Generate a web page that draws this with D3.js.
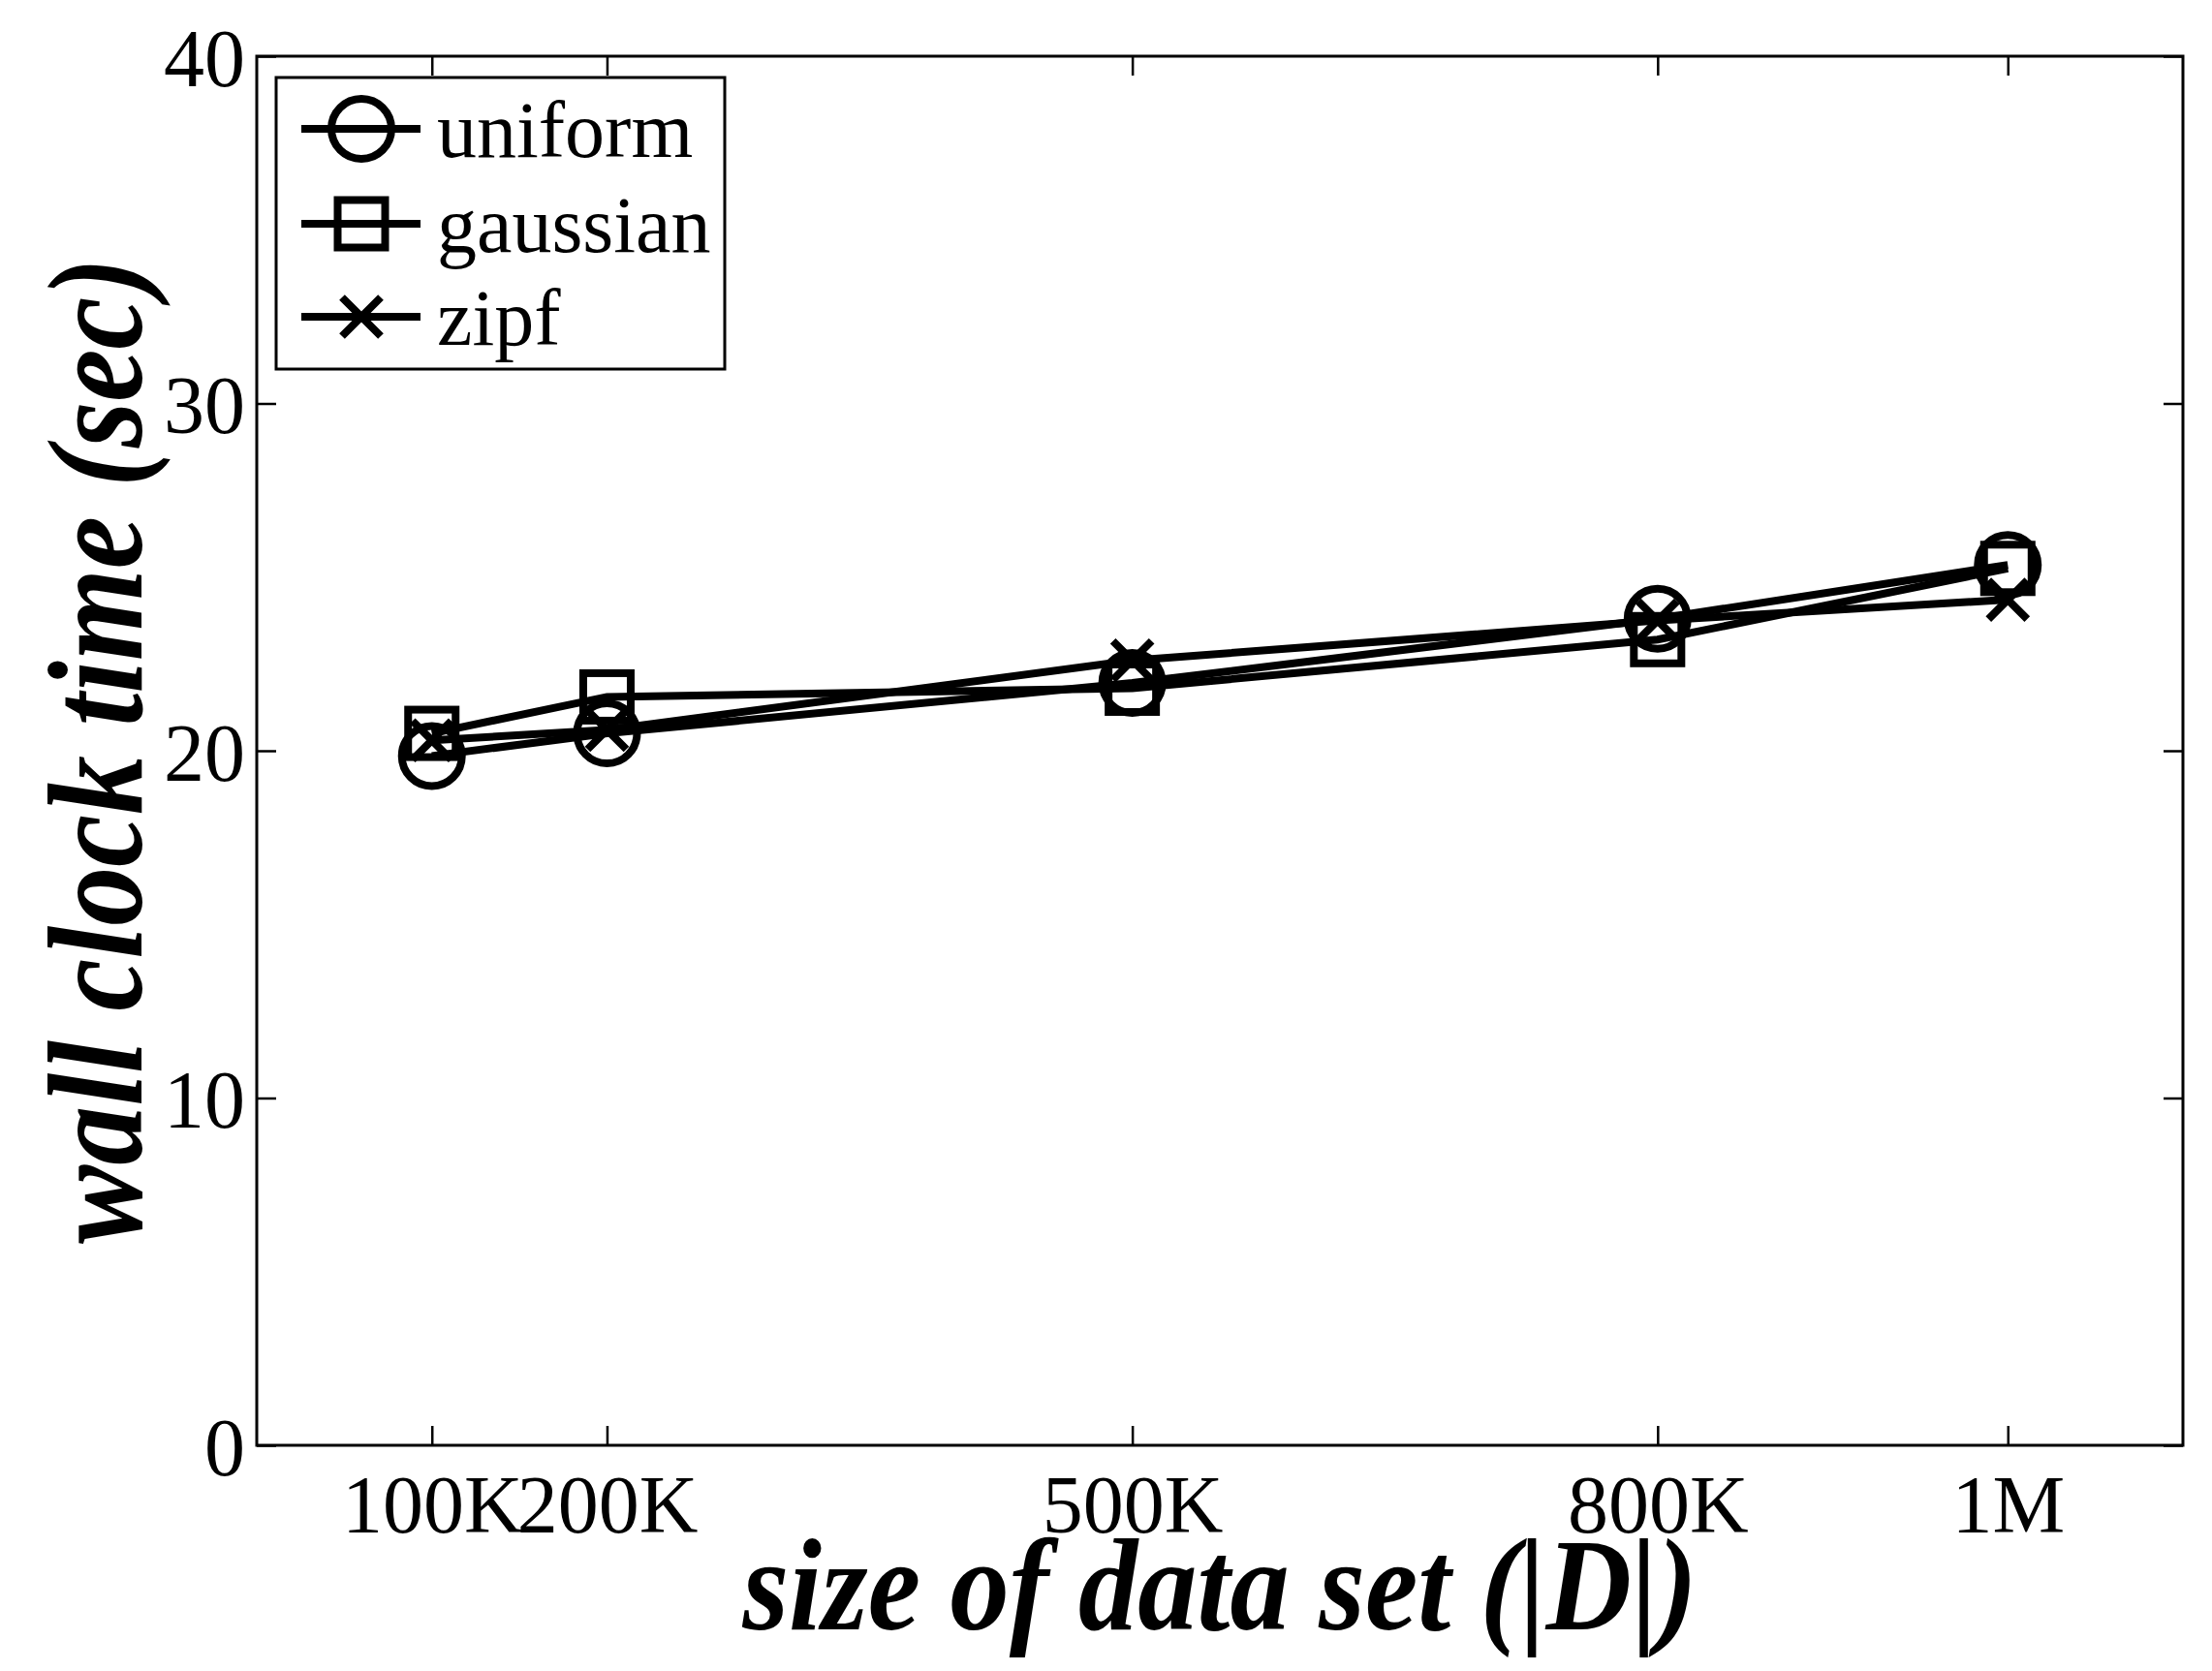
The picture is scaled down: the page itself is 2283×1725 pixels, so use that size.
<!DOCTYPE html>
<html>
<head>
<meta charset="utf-8">
<script src="https://cdn.jsdelivr.net/npm/d3@7"></script>
<style>
  html, body { margin: 0; padding: 0; background: #fff; }
  svg { display: block; }
</style>
</head>
<body>
<script>
// ---- data ----
const sizes = [100000, 200000, 500000, 800000, 1000000];
const xTickLabels = ["100K", "200K", "500K", "800K", "1M"];
const yTicks = [0, 10, 20, 30, 40];
const uniform = [19.85, 20.5, 21.95, 23.8, 25.35];
const gaussian = [20.5, 21.55, 21.8, 23.2, 25.25];
const zipf = [20.3, 20.6, 22.6, 23.75, 24.35];
const seriesNames = ["uniform", "gaussian", "zipf"];
const seriesMarkers = ["circle", "square", "cross"];

const W = 2283, H = 1725;
const m = { left: 265, right: 2253, top: 58, bottom: 1492 };
const FONT = "'Liberation Serif', 'Times New Roman', serif";

const svg = d3.select("body").append("svg").attr("width", W).attr("height", H)
  .style("font-family", FONT);

const x = d3.scaleLinear().domain([0, 1100000]).range([m.left, m.right]);
const y = d3.scaleLinear().domain([0, 40]).range([m.bottom, m.top]);

// box
svg.append("rect").attr("x", m.left).attr("y", m.top)
  .attr("width", m.right - m.left).attr("height", m.bottom - m.top)
  .attr("fill", "none").attr("stroke", "#000").attr("stroke-width", 3);

const tickLen = 20;
function styleAxis(g) {
  g.select(".domain").remove();
  g.selectAll(".tick line").attr("stroke", "#000").attr("stroke-width", 2.5);
}

// bottom axis
const xb = svg.append("g").attr("transform", `translate(0,${m.bottom})`)
  .call(d3.axisBottom(x).tickValues(sizes).tickFormat((d, i) => xTickLabels[i])
    .tickSizeInner(-tickLen).tickSizeOuter(0));
styleAxis(xb);
xb.selectAll(".tick text").attr("y", 90).attr("dy", 0)
  .attr("font-size", 84).attr("font-family", FONT).attr("fill", "#000");

// top axis
const xt = svg.append("g").attr("transform", `translate(0,${m.top})`)
  .call(d3.axisTop(x).tickValues(sizes).tickFormat("").tickSizeInner(-tickLen).tickSizeOuter(0));
styleAxis(xt);

// left axis
const yl = svg.append("g").attr("transform", `translate(${m.left},0)`)
  .call(d3.axisLeft(y).tickValues(yTicks).tickFormat(d3.format("d"))
    .tickSizeInner(-tickLen).tickSizeOuter(0));
styleAxis(yl);
yl.selectAll(".tick text").attr("x", -12).attr("dy", 30)
  .attr("font-size", 84).attr("font-family", FONT).attr("fill", "#000")
  .attr("text-anchor", "end");

// right axis
const yr = svg.append("g").attr("transform", `translate(${m.right},0)`)
  .call(d3.axisRight(y).tickValues(yTicks).tickFormat("").tickSizeInner(-tickLen).tickSizeOuter(0));
styleAxis(yr);

// axis labels (condensed bold italic)
svg.append("text")
  .attr("transform", `translate(${(m.left + m.right) / 2},1682) scale(0.9,1)`)
  .attr("text-anchor", "middle").attr("font-size", 136)
  .attr("font-weight", "bold").attr("font-style", "italic")
  .text("size of data set (|D|)");

svg.append("text")
  .attr("transform", `translate(146,${(m.top + m.bottom) / 2}) rotate(-90) scale(0.87,1)`)
  .attr("text-anchor", "middle").attr("font-size", 140)
  .attr("font-weight", "bold").attr("font-style", "italic")
  .text("wall clock time (sec)");

// markers
const SW = 8;
function drawMarker(g, type, cx, cy) {
  if (type === "circle") {
    g.append("circle").attr("cx", cx).attr("cy", cy).attr("r", 31)
      .attr("fill", "none").attr("stroke", "#000").attr("stroke-width", SW);
  } else if (type === "square") {
    g.append("rect").attr("x", cx - 24.5).attr("y", cy - 24.5).attr("width", 49).attr("height", 49)
      .attr("fill", "none").attr("stroke", "#000").attr("stroke-width", SW);
  } else {
    const a = 20;
    g.append("path").attr("d", `M${cx - a},${cy - a}L${cx + a},${cy + a}M${cx - a},${cy + a}L${cx + a},${cy - a}`)
      .attr("stroke", "#000").attr("stroke-width", SW).attr("fill", "none");
  }
}

const allSeries = [uniform, gaussian, zipf];
const line = d3.line().x((d, i) => x(sizes[i])).y(d => y(d));
allSeries.forEach((vals, si) => {
  const g = svg.append("g");
  g.append("path").datum(vals).attr("d", line)
    .attr("fill", "none").attr("stroke", "#000").attr("stroke-width", SW)
    .attr("stroke-linejoin", "miter");
  vals.forEach((v, i) => drawMarker(g, seriesMarkers[si], x(sizes[i]), y(v)));
});

// legend
const lg = svg.append("g");
lg.append("rect").attr("x", 285).attr("y", 80).attr("width", 463).attr("height", 301)
  .attr("fill", "#fff").attr("stroke", "#000").attr("stroke-width", 3);
const rowY = [133, 231, 327];
seriesNames.forEach((name, i) => {
  const cy = rowY[i];
  lg.append("line").attr("x1", 311).attr("x2", 434).attr("y1", cy).attr("y2", cy)
    .attr("stroke", "#000").attr("stroke-width", SW);
  drawMarker(lg, seriesMarkers[i], 373, cy);
  lg.append("text").attr("x", 451).attr("y", cy + 29).attr("font-size", 82)
    .attr("fill", "#000").text(name);
});
</script>
</body>
</html>
